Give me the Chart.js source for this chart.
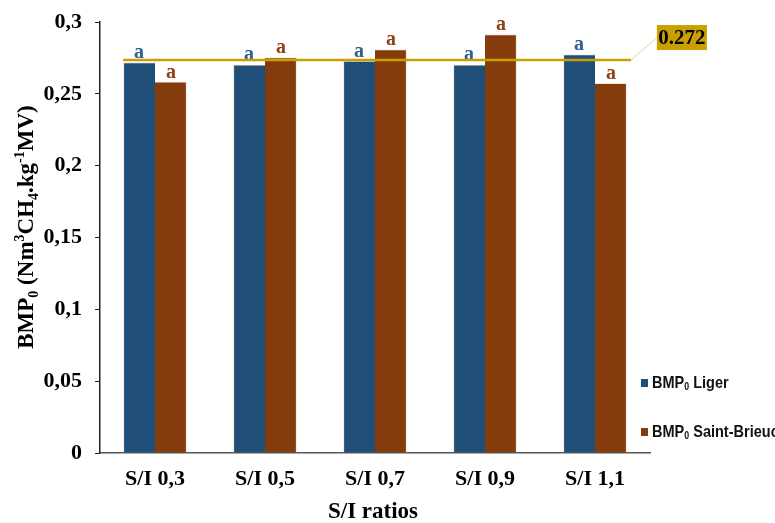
<!DOCTYPE html>
<html>
<head>
<meta charset="utf-8">
<script src="https://cdn.jsdelivr.net/npm/chart.js@4.4.1/dist/chart.umd.min.js"></script>
<style>
  html, body { margin: 0; padding: 0; background: #fff; }
  #wrap { width: 775px; height: 523px; }
</style>
</head>
<body>
<div id="wrap"><canvas id="bmpChart" width="775" height="523"></canvas></div>
<script>
// S/I ratio categories and BMP0 values
const categories = ['S/I 0,3', 'S/I 0,5', 'S/I 0,7', 'S/I 0,9', 'S/I 1,1'];
const ligerValues = [0.272, 0.2705, 0.273, 0.2705, 0.2775];
const brieucValues = [0.2585, 0.2755, 0.281, 0.2915, 0.2575];
const ligerLetters = ['a', 'a', 'a', 'a', 'a'];
const brieucLetters = ['a', 'a', 'a', 'a', 'a'];
const yTicks = [0, 0.05, 0.1, 0.15, 0.2, 0.25, 0.3];
const refLineValue = 0.2735;
const refLineLabel = '0.272';

const BLUE = '#1F4E79';
const BROWN = '#843C0C';
const GOLD = '#C9A000';
const SERIF = '"Liberation Serif", "Times New Roman", serif';
const SANS = '"Liberation Sans", Arial, sans-serif';

// draw a run of text pieces with sub/superscripts
function richText(ctx, parts, x, y, size, weight, family) {
    let cx = x;
    parts.forEach(p => {
        const s = p.sub || p.sup ? Math.round(size * 0.62) : size;
        const dy = p.sub ? size * 0.22 : (p.sup ? -size * 0.38 : 0);
        ctx.font = weight + ' ' + s + 'px ' + family;
        ctx.fillText(p.t, cx, y + dy);
        cx += ctx.measureText(p.t).width;
    });
    return cx - x;
}
function richWidth(ctx, parts, size, weight, family) {
    let w = 0;
    parts.forEach(p => {
        const s = p.sub || p.sup ? Math.round(size * 0.62) : size;
        ctx.font = weight + ' ' + s + 'px ' + family;
        w += ctx.measureText(p.t).width;
    });
    return w;
}

const yTitleParts = [
    {t: 'BMP'}, {t: '0', sub: true}, {t: ' (Nm'}, {t: '3', sup: true},
    {t: 'CH'}, {t: '4', sub: true}, {t: '.kg'}, {t: '-1', sup: true}, {t: 'MV)'}
];

const extrasPlugin = {
    id: 'extras',
    afterDatasetsDraw(chart) {
        const ctx = chart.ctx;
        const y = chart.scales.y;

        // letters above bars
        const letterSets = [ligerLetters, brieucLetters];
        const colors = ['#2F5F8F', '#8E4516'];
        ctx.save();
        ctx.textAlign = 'center';
        ctx.textBaseline = 'alphabetic';
        ctx.font = 'bold 20px ' + SERIF;
        chart.data.datasets.forEach((ds, di) => {
            chart.getDatasetMeta(di).data.forEach((bar, i) => {
                ctx.fillStyle = colors[di];
                ctx.fillText(letterSets[di][i], bar.x, bar.y - 4);
            });
        });
        ctx.restore();

        // reference line
        const m0 = chart.getDatasetMeta(0).data[0];
        const m1 = chart.getDatasetMeta(1).data[categories.length - 1];
        const ly = y.getPixelForValue(refLineValue);
        const x1 = m0.x - m0.width / 2;
        const x2 = m1.x + m1.width / 2 + 4;
        ctx.save();
        ctx.strokeStyle = GOLD;
        ctx.lineWidth = 2.5;
        ctx.beginPath();
        ctx.moveTo(x1, ly);
        ctx.lineTo(x2, ly);
        ctx.stroke();
        // leader line to label
        const bx = x2 + 26, by = ly - 35, bw = 50, bh = 25;
        ctx.strokeStyle = '#E8D69A';
        ctx.lineWidth = 1;
        ctx.beginPath();
        ctx.moveTo(x2, ly);
        ctx.lineTo(bx, by + bh / 2);
        ctx.stroke();
        ctx.fillStyle = GOLD;
        ctx.fillRect(bx, by, bw, bh);
        ctx.fillStyle = '#000';
        ctx.font = 'bold 21px ' + SERIF;
        ctx.textAlign = 'center';
        ctx.textBaseline = 'middle';
        ctx.fillText(refLineLabel, bx + bw / 2, by + bh / 2 + 1);
        ctx.restore();
    },
    afterDraw(chart) {
        const ctx = chart.ctx;
        ctx.save();
        ctx.fillStyle = '#000';
        ctx.textBaseline = 'alphabetic';

        // y axis title, rotated
        const size = 23;
        const w = richWidth(ctx, yTitleParts, size, 'bold', SERIF);
        ctx.translate(33, 227);
        ctx.rotate(-Math.PI / 2);
        richText(ctx, yTitleParts, -w / 2, 0, size, 'bold', SERIF);
        ctx.restore();

        // x axis title
        ctx.save();
        ctx.fillStyle = '#000';
        ctx.font = 'bold 23px ' + SERIF;
        ctx.textAlign = 'center';
        ctx.textBaseline = 'middle';
        ctx.fillText('S/I ratios', 373, 512);
        ctx.restore();

        // legend
        const items = [
            {c: BLUE, parts: [{t: 'BMP'}, {t: '0', sub: true}, {t: ' Liger'}]},
            {c: BROWN, parts: [{t: 'BMP'}, {t: '0', sub: true}, {t: ' Saint-Brieuc'}]}
        ];
        items.forEach((it, i) => {
            const ly = 383 + i * 49;
            ctx.save();
            ctx.fillStyle = it.c;
            ctx.fillRect(641, ly - 4, 7, 8);
            ctx.fillStyle = '#111';
            ctx.textBaseline = 'middle';
            ctx.translate(652, ly);
            ctx.scale(0.88, 1.05);
            richText(ctx, it.parts, 0, 0, 16.5, 'bold', SANS);
            ctx.restore();
        });
    }
};

new Chart(document.getElementById('bmpChart').getContext('2d'), {
    type: 'bar',
    data: {
        labels: categories,
        datasets: [
            {
                label: 'BMP0 Liger',
                data: ligerValues,
                backgroundColor: BLUE,
                borderColor: '#F3E6E0',
                borderWidth: {top: 1, left: 1, right: 0, bottom: 0},
                borderSkipped: 'bottom'
            },
            {
                label: 'BMP0 Saint-Brieuc',
                data: brieucValues,
                backgroundColor: BROWN,
                borderColor: '#F3E6E0',
                borderWidth: {top: 1, left: 0, right: 1, bottom: 0},
                borderSkipped: 'bottom'
            }
        ]
    },
    options: {
        responsive: false,
        animation: false,
        devicePixelRatio: 1,
        layout: {padding: {top: 22, right: 125, left: 0, bottom: 0}},
        datasets: {bar: {categoryPercentage: 0.58, barPercentage: 1.0}},
        plugins: {
            legend: {display: false},
            tooltip: {enabled: false}
        },
        scales: {
            x: {
                grid: {display: false},
                border: {display: true, color: '#555', width: 1.5},
                ticks: {
                    color: '#000',
                    padding: 5,
                    font: {family: SERIF, size: 22, weight: 'bold'}
                },
                afterFit(scale) { scale.height = 70; }
            },
            y: {
                min: 0,
                max: 0.3,
                afterBuildTicks(scale) {
                    scale.ticks = yTicks.map(v => ({value: v}));
                },
                grid: {drawOnChartArea: false, drawTicks: true, tickLength: 5, color: '#222'},
                border: {display: true, color: '#222', width: 1.5},
                ticks: {
                    color: '#000',
                    padding: 13,
                    font: {family: SERIF, size: 22, weight: 'bold'},
                    callback: v => String(v).replace('.', ',')
                },
                afterFit(scale) {
                    scale.width = 100;
                    scale.paddingTop = 0;
                    scale.paddingBottom = 0;
                }
            }
        }
    },
    plugins: [extrasPlugin]
});
</script>
</body>
</html>
